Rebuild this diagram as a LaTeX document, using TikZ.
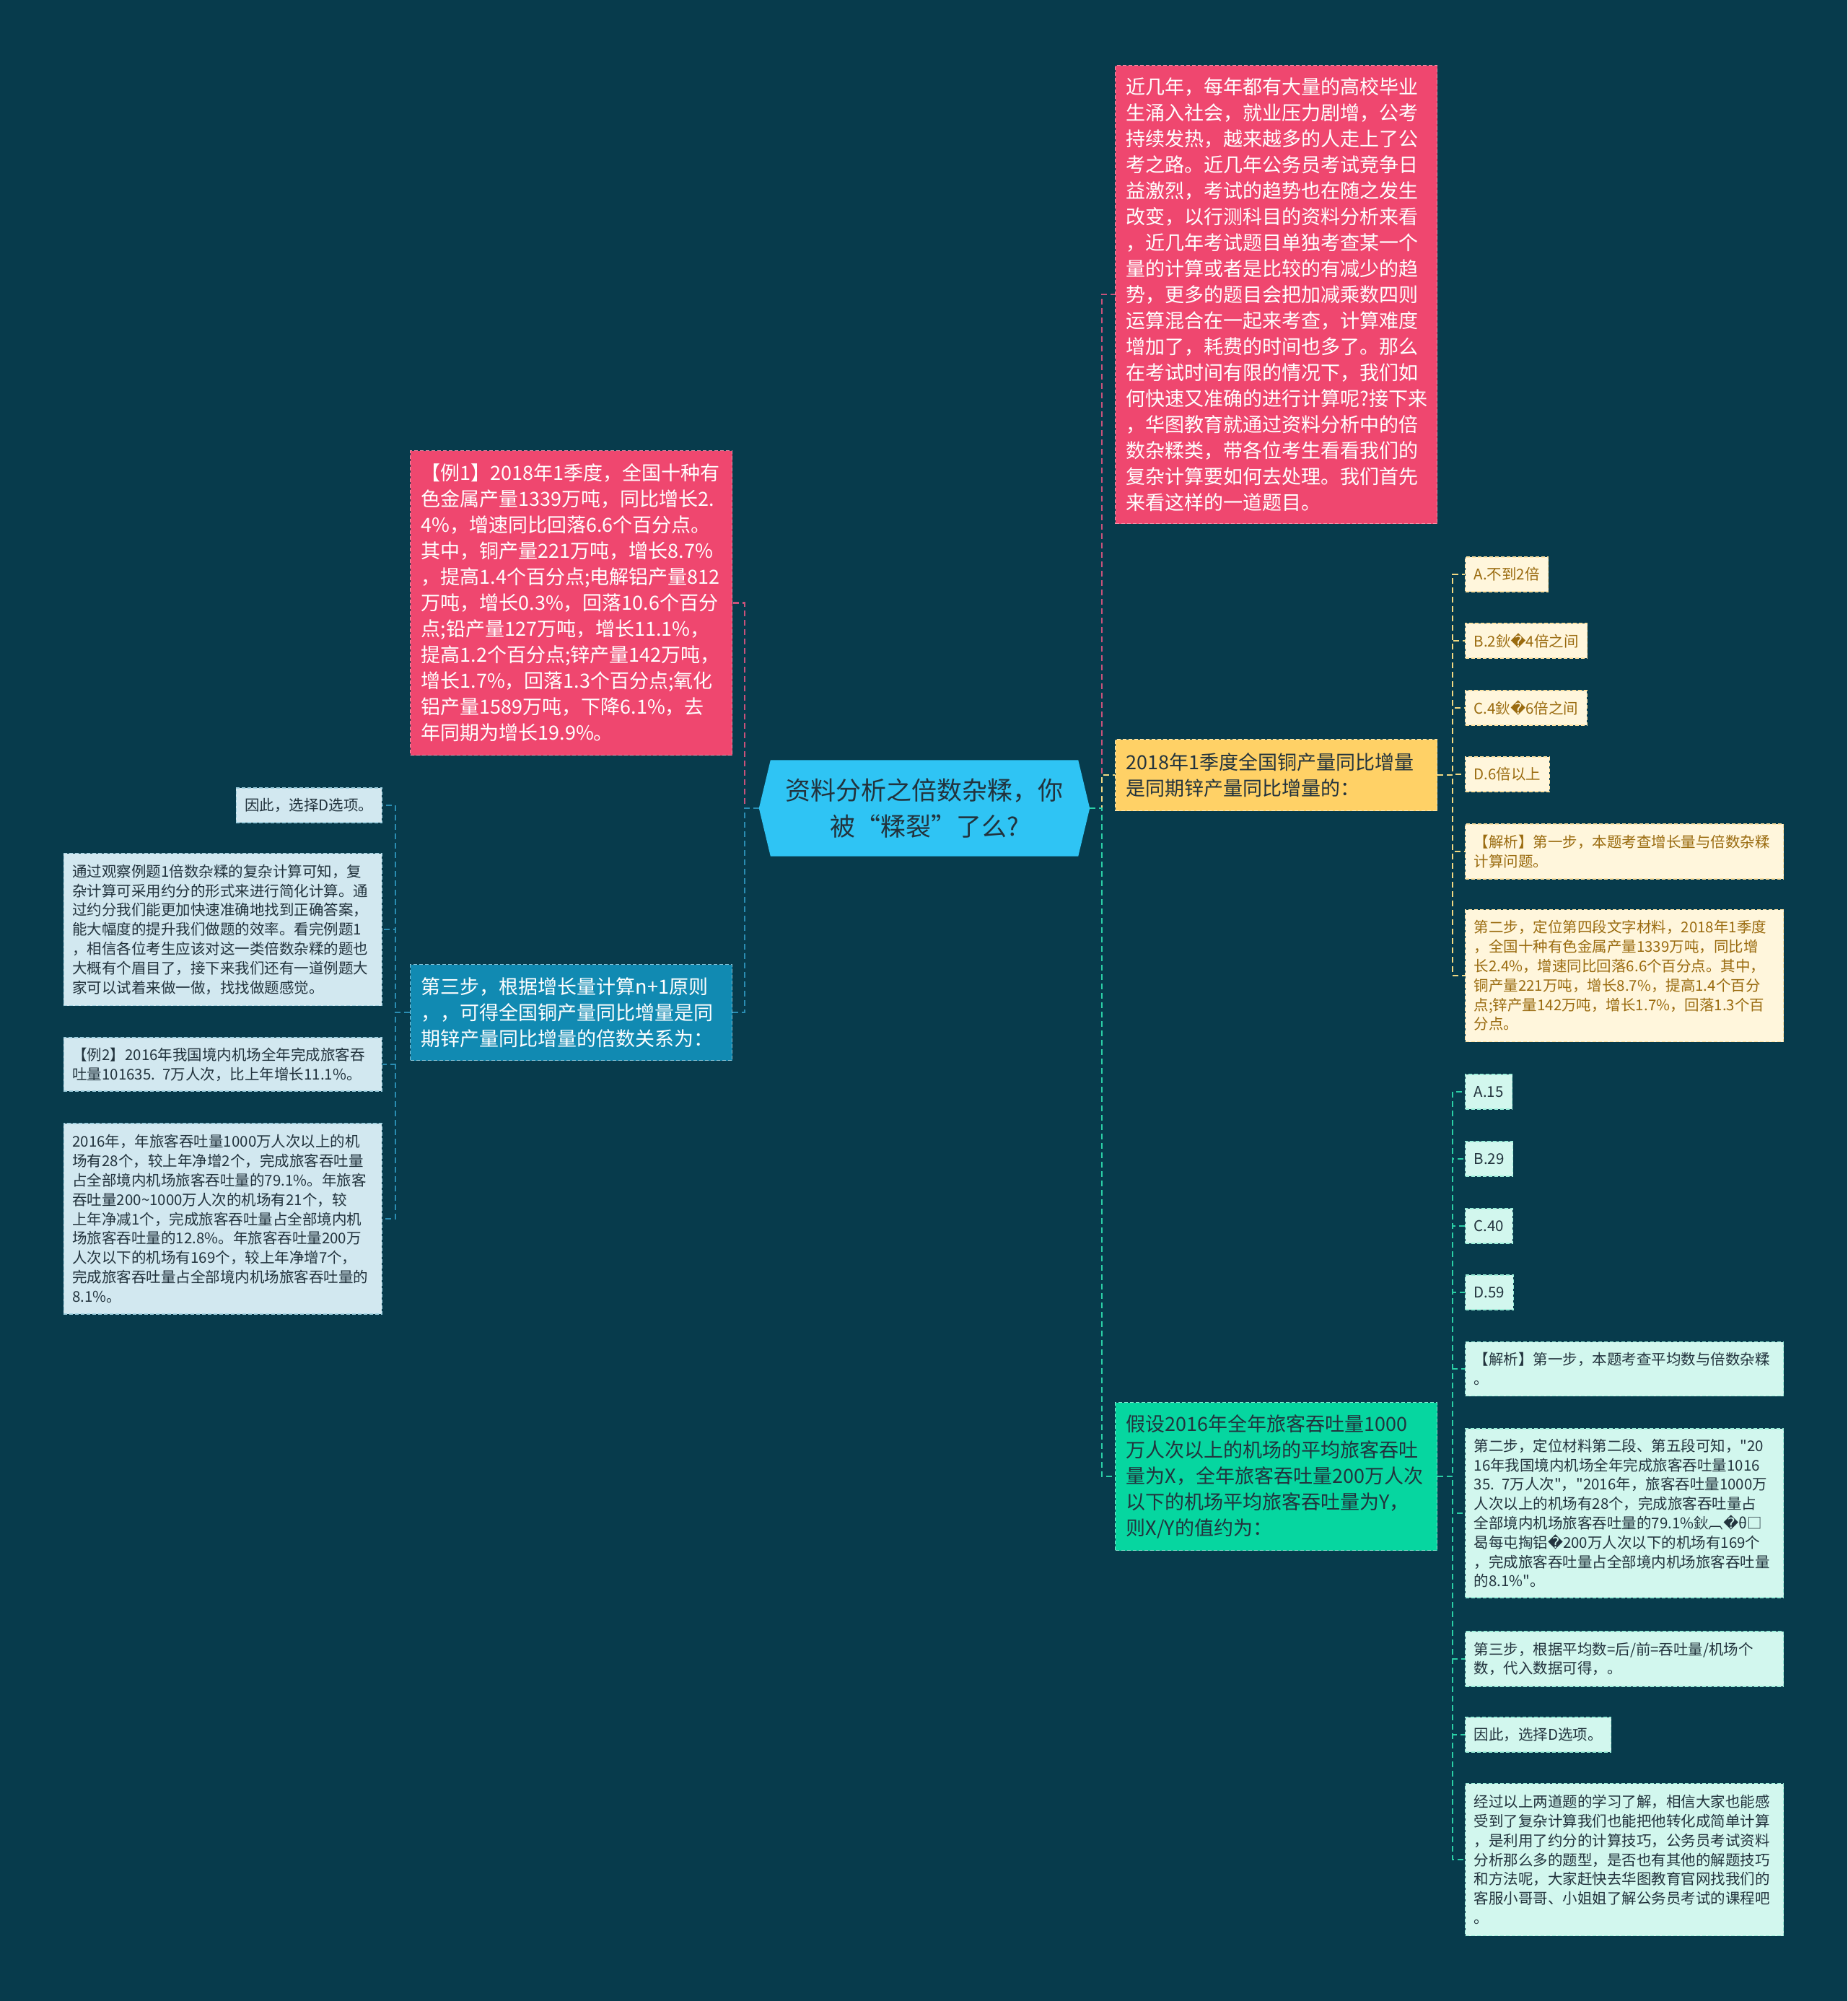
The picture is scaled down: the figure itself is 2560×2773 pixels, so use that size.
\documentclass[tikz,border=0pt]{standalone}
\usepackage{fontspec}
\setmainfont{Noto Sans CJK SC}
\newfontfamily\dejavu{DejaVu Sans}
\newfontfamily\rawfont{Noto Sans CJK SC}
\usepackage{xcolor}
\usetikzlibrary{backgrounds}

\definecolor{bgcol}{HTML}{073B4C}
\definecolor{rootcol}{HTML}{2FC4F4}
\definecolor{pinkcol}{HTML}{EF476F}
\definecolor{yellowcol}{HTML}{FFD166}
\definecolor{greencol}{HTML}{06D6A0}
\definecolor{bluecol}{HTML}{118AB2}
\definecolor{darktxt}{HTML}{22333D}
\definecolor{creamcol}{HTML}{FFF6DC}
\definecolor{creamtxt}{HTML}{9A6B0F}
\definecolor{mintcol}{HTML}{D2F7EE}
\definecolor{skycol}{HTML}{D2E8F0}
\definecolor{pinkline}{HTML}{C9527A}
\definecolor{yellowline}{HTML}{F2D983}
\definecolor{greenline}{HTML}{2BCFA6}
\definecolor{blueline}{HTML}{2A8DB2}

\newcommand{\bigtxt}{\fontsize{27}{36}\selectfont}
\newcommand{\smalltxt}{\fontsize{20.5}{26.8}\selectfont}
\newcommand{\roottxt}{\fontsize{35}{50}\selectfont}
\newcommand{\badch}{{\dejavu ^^^^fffd}}
\newcommand{\dq}{{\rawfont "}}

\begin{document}
\begin{tikzpicture}[x=1pt,y=-1pt,
    mainbox/.style={anchor=north west,align=left,text width=416pt,inner xsep=15pt,inner ysep=0pt,
      line width=1.2pt,dash pattern=on 5pt off 3pt,font=\bigtxt},
    optbox/.style={anchor=west,inner xsep=12pt,inner ysep=0pt,minimum height=48pt,
      line width=1.2pt,dash pattern=on 5pt off 3pt,font=\smalltxt},
    notebox/.style={optbox,align=left,text width=417pt},
    creambox/.style={fill=creamcol,draw=yellowcol!60!white,text=creamtxt},
    mintbox/.style={fill=mintcol,draw=greencol!40!white,text=darktxt},
    skybox/.style={fill=skycol,draw=bluecol!40!white,text=darktxt},
    link/.style={line width=2.5pt,dash pattern=on 8pt off 5pt}]
  \useasboundingbox (0,0) rectangle (2560,2773);

  % centre
  \node[font=\roottxt,text=darktxt,align=center,minimum width=458pt,minimum height=133pt,inner sep=0pt]
    (root) at (1281,1120) {资料分析之倍数杂糅，你\\被“糅裂”了么?};

  % right branch
  \node[mainbox,fill=pinkcol,draw=pinkcol!60!white,text=white,minimum height=635pt] (intro) at (1545,90)
    {近几年，每年都有大量的高校毕业\\生涌入社会，就业压力剧增，公考\\持续发热，越来越多的人走上了公\\考之路。近几年公务员考试竞争日\\益激烈，考试的趋势也在随之发生\\改变，以行测科目的资料分析来看\\，近几年考试题目单独考查某一个\\量的计算或者是比较的有减少的趋\\势，更多的题目会把加减乘数四则\\运算混合在一起来考查，计算难度\\增加了，耗费的时间也多了。那么\\在考试时间有限的情况下，我们如\\何快速又准确的进行计算呢?接下来\\，华图教育就通过资料分析中的倍\\数杂糅类，带各位考生看看我们的\\复杂计算要如何去处理。我们首先\\来看这样的一道题目。};
  \node[mainbox,fill=yellowcol,draw=yellowcol!50!white,text=darktxt,minimum height=99pt] (q1) at (1545,1024)
    {2018年1季度全国铜产量同比增量\\是同期锌产量同比增量的：};
  \node[mainbox,fill=greencol,draw=greencol!50!white,text=darktxt,minimum height=205pt] (q2) at (1545,1943)
    {假设2016年全年旅客吞吐量1000\\万人次以上的机场的平均旅客吞吐\\量为X，全年旅客吞吐量200万人次\\以下的机场平均旅客吞吐量为Y，\\则X/Y的值约为：};

  % options of q1
  \node[optbox,creambox] (qa) at (2030,796) {A.不到2倍};
  \node[optbox,creambox] (qb) at (2030,888) {B.2鈥\badch 4倍之间};
  \node[optbox,creambox] (qc) at (2030,981) {C.4鈥\badch 6倍之间};
  \node[optbox,creambox] (qd) at (2030,1073) {D.6倍以上};
  \node[notebox,creambox,minimum height=76pt] (qe) at (2030,1180)
    {【解析】第一步，本题考查增长量与倍数杂糅\\计算问题。};
  \node[notebox,creambox,minimum height=183pt] (qf) at (2030,1352)
    {第二步，定位第四段文字材料，2018年1季度\\，全国十种有色金属产量1339万吨，同比增\\长2.4\%，增速同比回落6.6个百分点。其中，\\铜产量221万吨，增长8.7\%，提高1.4个百分\\点;锌产量142万吨，增长1.7\%，回落1.3个百\\分点。};

  % options of q2
  \node[optbox,mintbox] (ra) at (2030,1513) {A.15};
  \node[optbox,mintbox] (rb) at (2030,1606) {B.29};
  \node[optbox,mintbox] (rc) at (2030,1699) {C.40};
  \node[optbox,mintbox] (rd) at (2030,1791) {D.59};
  \node[notebox,mintbox,minimum height=75pt] (re) at (2030,1897)
    {【解析】第一步，本题考查平均数与倍数杂糅\\。};
  \node[notebox,mintbox,minimum height=234pt] (rf) at (2030,2097)
    {第二步，定位材料第二段、第五段可知，\dq 20\\16年我国境内机场全年完成旅客吞吐量1016\\35. 7万人次\dq ，\dq 2016年，旅客吞吐量1000万\\人次以上的机场有28个，完成旅客吞吐量占\\全部境内机场旅客吞吐量的79.1\%鈥︹\badch θ□\\曷每屯掏铝\badch 200万人次以下的机场有169个\\，完成旅客吞吐量占全部境内机场旅客吞吐量\\的8.1\%\dq 。};
  \node[notebox,mintbox,minimum height=76pt] (rg) at (2030,2299)
    {第三步，根据平均数=后/前=吞吐量/机场个\\数，代入数据可得，。};
  \node[optbox,mintbox] (rh) at (2030,2404) {因此，选择D选项。};
  \node[notebox,mintbox,minimum height=211pt] (ri) at (2030,2577)
    {经过以上两道题的学习了解，相信大家也能感\\受到了复杂计算我们也能把他转化成简单计算\\，是利用了约分的计算技巧，公务员考试资料\\分析那么多的题型，是否也有其他的解题技巧\\和方法呢，大家赶快去华图教育官网找我们的\\客服小哥哥、小姐姐了解公务员考试的课程吧\\。};

  % left branch
  \node[mainbox,fill=pinkcol,draw=pinkcol!60!white,text=white,minimum height=422pt] (ex1) at (568,624)
    {【例1】2018年1季度，全国十种有\\色金属产量1339万吨，同比增长2.\\4\%，增速同比回落6.6个百分点。\\其中，铜产量221万吨，增长8.7\%\\，提高1.4个百分点;电解铝产量812\\万吨，增长0.3\%，回落10.6个百分\\点;铅产量127万吨，增长11.1\%，\\提高1.2个百分点;锌产量142万吨，\\增长1.7\%，回落1.3个百分点;氧化\\铝产量1589万吨，下降6.1\%，去\\年同期为增长19.9\%。};
  \node[mainbox,fill=bluecol,draw=bluecol!50!white,text=white,minimum height=133pt] (step3) at (568,1336)
    {第三步，根据增长量计算n+1原则\\，，可得全国铜产量同比增量是同\\期锌产量同比增量的倍数关系为：};

  \node[optbox,skybox,anchor=east] (sa) at (530,1116) {因此，选择D选项。};
  \node[notebox,skybox,anchor=east,minimum height=211pt] (sb) at (530,1288)
    {通过观察例题1倍数杂糅的复杂计算可知，复\\杂计算可采用约分的形式来进行简化计算。通\\过约分我们能更加快速准确地找到正确答案，\\能大幅度的提升我们做题的效率。看完例题1\\，相信各位考生应该对这一类倍数杂糅的题也\\大概有个眉目了，接下来我们还有一道例题大\\家可以试着来做一做，找找做题感觉。};
  \node[notebox,skybox,anchor=east,minimum height=74pt] (sc) at (530,1475)
    {【例2】2016年我国境内机场全年完成旅客吞\\吐量101635. 7万人次，比上年增长11.1\%。};
  \node[notebox,skybox,anchor=east,minimum height=264pt] (sd) at (530,1689)
    {2016年，年旅客吞吐量1000万人次以上的机\\场有28个，较上年净增2个，完成旅客吞吐量\\占全部境内机场旅客吞吐量的79.1\%。年旅客\\吞吐量200\textasciitilde 1000万人次的机场有21个，较\\上年净减1个，完成旅客吞吐量占全部境内机\\场旅客吞吐量的12.8\%。年旅客吞吐量200万\\人次以下的机场有169个，较上年净增7个，\\完成旅客吞吐量占全部境内机场旅客吞吐量的\\8.1\%。};

  % background and centre shape
  \begin{scope}[on background layer]
    \fill[bgcol] (0,0) rectangle (2560,2773);
    \fill[rootcol] (root.west) -- ([xshift=16pt]root.north west) -- ([xshift=-16pt]root.north east)
      -- (root.east) -- ([xshift=-16pt]root.south east) -- ([xshift=16pt]root.south west) -- cycle;
  \end{scope}

  % connectors
  \draw[link,pinkline] (root.east) -- ++(17,0) |- (intro.west);
  \draw[link,yellowline] (root.east) -- ++(17,0) |- (q1.west);
  \draw[link,greenline] (root.east) -- ++(17,0) |- (q2.west);
  \draw[link,pinkline] (root.west) -- ++(-20,0) |- (ex1.east);
  \draw[link,blueline] (root.west) -- ++(-20,0) |- (step3.east);
  \foreach \n in {qa,qb,qc,qd,qe,qf}
    \draw[link,yellowline] (q1.east) -- ++(21,0) |- (\n.west);
  \foreach \n in {ra,rb,rc,rd,re,rf,rg,rh,ri}
    \draw[link,greenline] (q2.east) -- ++(21,0) |- (\n.west);
  \foreach \n in {sa,sb,sc,sd}
    \draw[link,blueline] (step3.west) -- ++(-20,0) |- (\n.east);
\end{tikzpicture}
\end{document}
